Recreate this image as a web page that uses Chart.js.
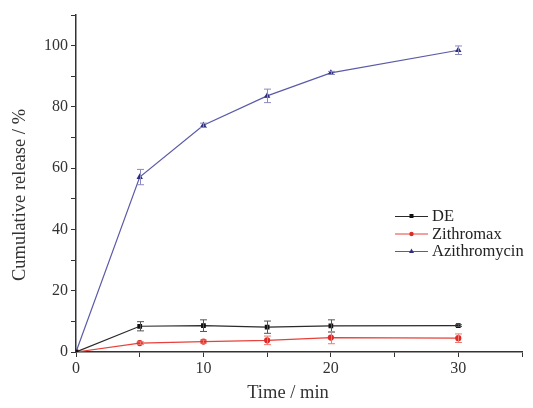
<!DOCTYPE html>
<html>
<head>
<meta charset="utf-8">
<script src="https://cdn.jsdelivr.net/npm/chart.js@4/dist/chart.umd.min.js"></script>
<style>
  html, body { margin: 0; padding: 0; background: #fff; }
  #wrap { width: 533px; height: 408px; }
</style>
</head>
<body>
<div id="wrap"><canvas id="release" width="533" height="408"></canvas></div>
<script>
const times = [0, 5, 10, 15, 20, 30];

const deValues = [0, 8.4, 8.6, 8.1, 8.5, 8.6];
const deErrors = [0, 1.5, 1.9, 2.0, 2.0, 0.3];

const zithValues = [0, 2.9, 3.4, 3.8, 4.7, 4.5];
const zithErrors = [0, 0.4, 0.5, 1.4, 2.0, 1.4];

const aziValues = [0, 57.1, 74.0, 83.6, 91.1, 98.5];
const aziErrors = [0, 2.5, 0.7, 2.2, 0.5, 1.4];

const seriesNames = ['DE', 'Zithromax', 'Azithromycin'];

const serif = "'Liberation Serif', 'DejaVu Serif', serif";

function points (values) {
  return times.map((t, i) => ({ x: t, y: values[i] }));
}

// error bars drawn from the same scales as the points
const errorBars = {
  id: 'errorBars',
  afterDatasetsDraw (chart) {
    const { ctx, scales: { x, y } } = chart;
    ctx.save();
    chart.data.datasets.forEach((ds) => {
      ctx.strokeStyle = ds.errorColor;
      ctx.lineWidth = 1;
      ds.data.forEach((p, i) => {
        const e = ds.errors[i];
        if (!e) return;
        const px = Math.round(x.getPixelForValue(p.x)) + 0.5;
        const top = y.getPixelForValue(p.y + e);
        const bot = y.getPixelForValue(p.y - e);
        ctx.beginPath();
        ctx.moveTo(px, top);
        ctx.lineTo(px, bot);
        ctx.moveTo(px - 3.5, top);
        ctx.lineTo(px + 3.5, top);
        ctx.moveTo(px - 3.5, bot);
        ctx.lineTo(px + 3.5, bot);
        ctx.stroke();
      });
    });
    ctx.restore();
  }
};

// axis titles, placed like the original figure (slightly off-centre)
const axisTitles = {
  id: 'axisTitles',
  afterDraw (chart) {
    const { ctx } = chart;
    ctx.save();
    ctx.fillStyle = '#333';
    ctx.font = '18.5px ' + serif;
    ctx.textAlign = 'center';
    ctx.textBaseline = 'middle';
    ctx.fillText('Time / min', 288, 393);
    ctx.translate(20, 195);
    ctx.rotate(-Math.PI / 2);
    ctx.fillText('Cumulative release / %', 0, 0);
    ctx.restore();
  }
};

// legend box inside the plot
const insideLegend = {
  id: 'insideLegend',
  afterDraw (chart) {
    const { ctx } = chart;
    const x0 = 395;
    let yy = 216;
    ctx.save();
    ctx.font = '16.5px ' + serif;
    ctx.textBaseline = 'middle';
    chart.data.datasets.forEach((ds) => {
      ctx.strokeStyle = ds.borderColor;
      ctx.lineWidth = 1;
      ctx.beginPath();
      ctx.moveTo(x0, yy + 0.5);
      ctx.lineTo(x0 + 33, yy + 0.5);
      ctx.stroke();
      ctx.fillStyle = ds.pointBackgroundColor;
      ctx.beginPath();
      if (ds.pointStyle === 'triangle') {
        ctx.moveTo(x0 + 16.5, yy - 2.5);
        ctx.lineTo(x0 + 19, yy + 2);
        ctx.lineTo(x0 + 14, yy + 2);
        ctx.closePath();
      } else if (ds.pointStyle === 'rect') {
        ctx.rect(x0 + 14.5, yy - 2, 4, 4);
      } else {
        ctx.arc(x0 + 16.5, yy + 0.5, 2.2, 0, Math.PI * 2);
      }
      ctx.fill();
      ctx.fillStyle = '#222';
      ctx.fillText(ds.label, x0 + 37, yy + 1);
      yy += 17.5;
    });
    ctx.restore();
  }
};

new Chart(document.getElementById('release'), {
  type: 'line',
  data: {
    datasets: [
      {
        label: seriesNames[0],
        data: points(deValues),
        errors: deErrors,
        borderColor: '#2a2a2a',
        errorColor: '#555',
        pointBackgroundColor: '#111',
        pointBorderColor: '#111',
        pointStyle: 'rect',
        pointRadius: 2.5,
        borderWidth: 1.2
      },
      {
        label: seriesNames[1],
        data: points(zithValues),
        errors: zithErrors,
        borderColor: '#e8403a',
        errorColor: '#ee7a70',
        pointBackgroundColor: '#e02a28',
        pointBorderColor: '#e02a28',
        pointStyle: 'circle',
        pointRadius: 2.5,
        borderWidth: 1.2
      },
      {
        label: seriesNames[2],
        data: points(aziValues),
        errors: aziErrors,
        borderColor: '#5a5aa8',
        errorColor: '#8a8ac0',
        pointBackgroundColor: '#2e2e80',
        pointBorderColor: '#2e2e80',
        pointStyle: 'triangle',
        pointRadius: 2.5,
        borderWidth: 1.2
      }
    ]
  },
  options: {
    responsive: false,
    animation: false,
    layout: { padding: { top: 15, right: 11, left: 0, bottom: 0 } },
    plugins: {
      legend: { display: false },
      tooltip: { enabled: false }
    },
    scales: {
      x: {
        type: 'linear',
        min: 0,
        max: 35,
        border: { color: '#333', width: 1.5 },
        grid: { drawOnChartArea: false, color: '#333', tickLength: 5 },
        ticks: {
          stepSize: 5,
          autoSkip: false,
          maxRotation: 0,
          color: '#333',
          font: { family: serif, size: 16 },
          padding: 2,
          callback: (v) => (v % 10 === 0 && v <= 30 ? v : '')
        },
        afterFit (scale) { scale.height = 56; }
      },
      y: {
        type: 'linear',
        min: 0,
        max: 110,
        border: { color: '#333', width: 1.5 },
        grid: { drawOnChartArea: false, color: '#333', tickLength: 5 },
        ticks: {
          stepSize: 10,
          autoSkip: false,
          color: '#333',
          font: { family: serif, size: 16 },
          padding: 3,
          callback: (v) => (v % 20 === 0 && v <= 100 ? v : '')
        },
        afterFit (scale) { scale.width = 76; }
      }
    }
  },
  plugins: [errorBars, axisTitles, insideLegend]
});
</script>
</body>
</html>
